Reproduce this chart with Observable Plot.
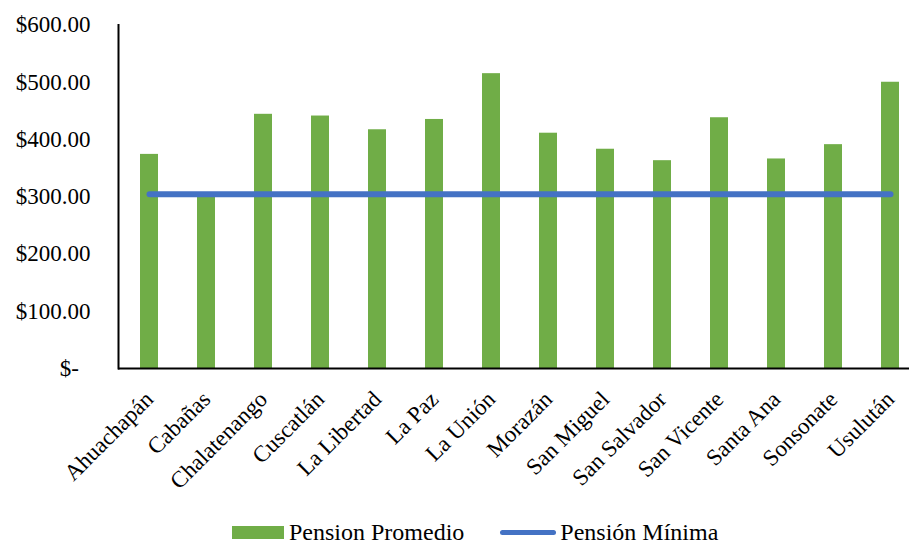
<!DOCTYPE html>
<html>
<head>
<meta charset="utf-8">
<script src="https://cdn.jsdelivr.net/npm/d3@7"></script>
<script src="https://cdn.jsdelivr.net/npm/@observablehq/plot@0.6"></script>
<style>
  html, body { margin: 0; padding: 0; background: #fff; }
  #wrap { position: relative; width: 909px; height: 544px; overflow: hidden; }
  #legend { position: absolute; left: 232px; top: 519px; height: 26px; line-height: 26px; display: flex; align-items: center;
    font-family: 'Liberation Serif', 'Times New Roman', serif; font-size: 24px; color: #000; white-space: nowrap; }
  .sw-bar { width: 52px; height: 13px; background: #70AD47; margin-right: 5px; }
  .sw-line { width: 56px; height: 5px; border-radius: 3px; background: #4472C4; margin-left: 36px; margin-right: 4px; }
</style>
</head>
<body>
<div id="wrap">
  <div id="chart"></div>
  <div id="legend">
    <div class="sw-bar"></div><span>Pension Promedio</span>
    <div class="sw-line"></div><span>Pensión Mínima</span>
  </div>
</div>
<script>
const categories = ["Ahuachapán", "Cabañas", "Chalatenango", "Cuscatlán", "La Libertad", "La Paz", "La Unión",
  "Morazán", "San Miguel", "San Salvador", "San Vicente", "Santa Ana", "Sonsonate", "Usulután"];
const pensionPromedio = [374, 300, 444, 441, 417, 435, 515, 411, 383, 363, 438, 366, 391, 500];
const pensionMinima = [304.17, 304.17, 304.17, 304.17, 304.17, 304.17, 304.17, 304.17, 304.17, 304.17, 304.17, 304.17, 304.17, 304.17];
const yTicks = [0, 100, 200, 300, 400, 500, 600];

const data = categories.map((c, i) => ({cat: c, promedio: pensionPromedio[i], minima: pensionMinima[i]}));

const fmt = d3.format(".2f");
const serif = "'Liberation Serif', 'Times New Roman', serif";
const chart = Plot.plot({
  width: 909,
  height: 510,
  marginLeft: 118,
  marginRight: -12,
  marginTop: 24.5,
  marginBottom: 142,
  style: {fontFamily: serif, fontSize: "23px", color: "#000", background: "#fff", overflow: "visible"},
  x: {domain: categories, paddingInner: 0.686, paddingOuter: 0.343, label: null},
  y: {domain: [0, 600], label: null},
  marks: [
    Plot.barY(data, {x: "cat", y: "promedio", fill: "#70AD47"}),
    Plot.line(data, {x: "cat", y: "minima", stroke: "#4472C4", strokeWidth: 6, strokeLinecap: "round"}),
    Plot.ruleY([0], {stroke: "#000", strokeWidth: 2}),
    Plot.frame({anchor: "left", stroke: "#000", strokeWidth: 2}),
    Plot.axisY({ticks: yTicks, tickSize: 0, tickPadding: 28, label: null, fontSize: 23, fontFamily: serif,
      tickFormat: d => d === 0 ? "$-\u00a0\u00a0" : "$" + fmt(d)}),
    Plot.axisX({tickSize: 0, tickRotate: -45, tickPadding: 27, label: null, fontSize: 23, fontFamily: serif})
  ]
});
document.getElementById("chart").appendChild(chart);
</script>
</body>
</html>
